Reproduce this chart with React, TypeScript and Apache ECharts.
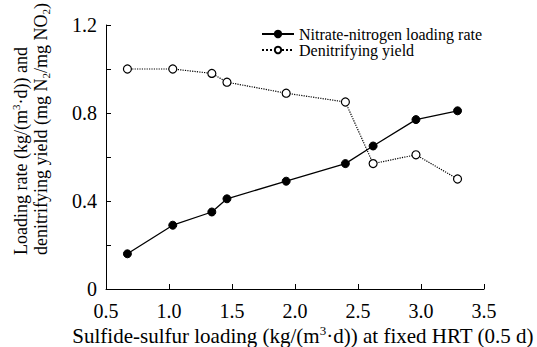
import React, { useEffect, useRef } from "react";
import * as echarts from "echarts";

const xValues = [0.67, 1.03, 1.34, 1.46, 1.93, 2.4, 2.62, 2.96, 3.29];
const nitrateRate = [0.16, 0.29, 0.35, 0.41, 0.49, 0.57, 0.65, 0.77, 0.81];
const denitrifyingYield = [1.0, 1.0, 0.98, 0.94, 0.89, 0.85, 0.57, 0.61, 0.5];
const seriesNames = ["Nitrate-nitrogen loading rate", "Denitrifying yield"];
const yLabeled = [0, 0.4, 0.8, 1.2];

const FONT = "'Liberation Serif', 'Times New Roman', Times, serif";

export default function App() {
  const ref = useRef<HTMLDivElement>(null);
  useEffect(() => {
    if (!ref.current) return;
    document.body.style.margin = "0";
    const chart = echarts.init(ref.current, undefined, { renderer: "svg" });
    const mk = (size: number, lh: number) => ({
      n: { fontFamily: FONT, fontSize: size, color: "#000", lineHeight: lh, verticalAlign: "middle" },
      sup: { fontFamily: FONT, fontSize: Math.round(size * 0.62), color: "#000", lineHeight: lh, verticalAlign: "top" },
      sub: { fontFamily: FONT, fontSize: Math.round(size * 0.62), color: "#000", lineHeight: lh, verticalAlign: "bottom" },
    });
    const richY = mk(18, 21);
    const richX = mk(21, 24);
    const tickRich = { t: { fontFamily: FONT, fontSize: 20, color: "#000" } };
    chart.setOption({
      animation: false,
      backgroundColor: "#fff",
      textStyle: { fontFamily: FONT },
      grid: { left: 106, right: 53, top: 25, bottom: 58, containLabel: false },
      legend: {
        orient: "vertical",
        left: 256,
        top: 21,
        itemWidth: 32,
        itemHeight: 8,
        itemGap: 0,
        textStyle: { fontFamily: FONT, fontSize: 16, color: "#000" },
        data: seriesNames,
      },
      xAxis: {
        type: "value",
        min: 0.5,
        max: 3.5,
        interval: 0.5,
        axisLine: { show: true, lineStyle: { color: "#000", width: 1 } },
        axisTick: { show: true, inside: true, length: 5, lineStyle: { color: "#000" } },
        splitLine: { show: false },
        axisLabel: {
          margin: 12,
          rich: tickRich,
          formatter: (v: number) => `{t|${v.toFixed(1)}}`,
        },
      },
      yAxis: {
        type: "value",
        min: 0,
        max: 1.2,
        interval: 0.2,
        axisLine: { show: true, lineStyle: { color: "#000", width: 1 } },
        axisTick: { show: true, inside: true, length: 5, lineStyle: { color: "#000" } },
        splitLine: { show: false },
        axisLabel: {
          margin: 9,
          rich: tickRich,
          formatter: (v: number) => {
            const hit = yLabeled.find((t) => Math.abs(t - v) < 1e-6);
            if (hit === undefined) return "";
            return `{t|${hit === 0 ? "0" : hit.toFixed(1)}}`;
          },
        },
      },
      series: [
        {
          name: seriesNames[0],
          type: "line",
          data: xValues.map((x, i) => [x, nitrateRate[i]]),
          symbol: "circle",
          symbolSize: 8,
          lineStyle: { color: "#000", width: 1.3, type: "solid" },
          itemStyle: { color: "#000", borderColor: "#000", borderWidth: 1 },
        },
        {
          name: seriesNames[1],
          type: "line",
          data: xValues.map((x, i) => [x, denitrifyingYield[i]]),
          symbol: "circle",
          symbolSize: 8,
          lineStyle: { color: "#000", width: 1.2, type: "dotted" },
          itemStyle: { color: "#fff", borderColor: "#000", borderWidth: 1.2 },
        },
      ],
      graphic: [
        {
          type: "text",
          x: 21,
          y: 255,
          rotation: Math.PI / 2,
          style: {
            text: "{n|Loading rate (kg/(m}{sup|3}{n|·d)) and}",
            rich: richY,
            align: "left",
            verticalAlign: "middle",
          },
        },
        {
          type: "text",
          x: 41,
          y: 255,
          rotation: Math.PI / 2,
          style: {
            text: "{n|denitrifying yield (mg N}{sub|2}{n|/mg NO}{sub|2}{n|)}",
            rich: richY,
            align: "left",
            verticalAlign: "middle",
          },
        },
        {
          type: "text",
          x: 303,
          y: 336,
          style: {
            text: "{n|Sulfide-sulfur loading (kg/(m}{sup|3}{n|·d)) at fixed HRT (0.5 d)}",
            rich: richX,
            align: "center",
            verticalAlign: "middle",
          },
        },
      ],
    });
    return () => chart.dispose();
  }, []);
  return <div ref={ref} style={{ position: "fixed", left: 0, top: 0, width: 537, height: 347 }} />;
}
